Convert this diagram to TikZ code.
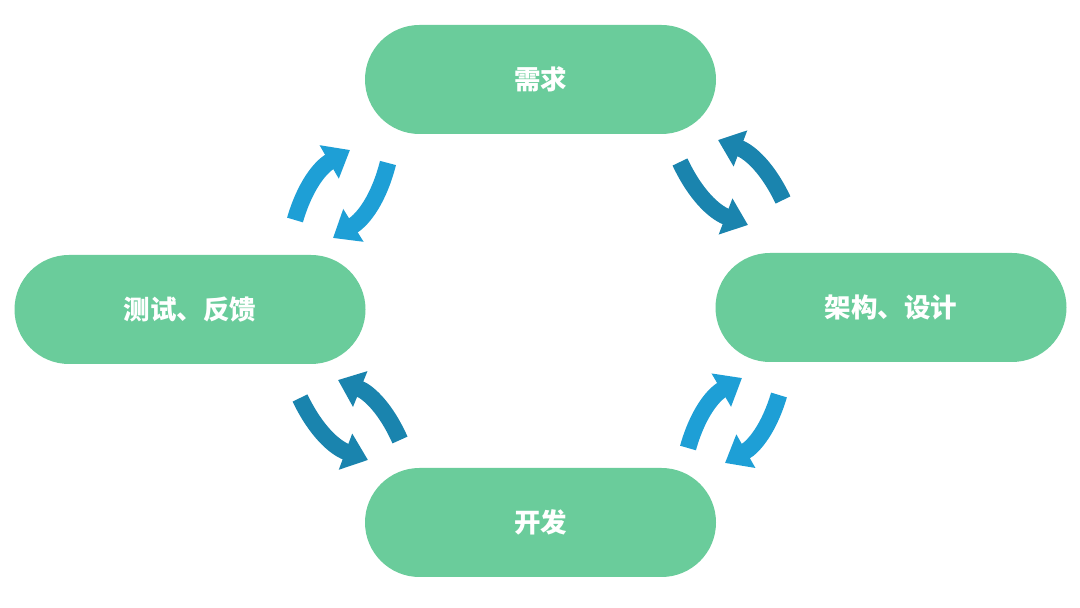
\documentclass[tikz,border=0pt]{standalone}
\usepackage{fontspec}
\newfontfamily\cjk{Noto Sans CJK SC}
\usetikzlibrary{arrows.meta}
\definecolor{pill}{HTML}{6ACC9B}
\definecolor{lblue}{HTML}{1E9FD6}
\definecolor{dblue}{HTML}{1A84AE}
\begin{document}
\begin{tikzpicture}[x=1pt,y=1pt,
  stage/.style={fill=pill,draw=none,rounded corners=54.5pt,minimum width=351pt,minimum height=109pt,
    text=white,font=\cjk\bfseries\fontsize{26.5}{30}\selectfont,inner sep=0pt},
  arrbase/.style={line width=16.5pt,line cap=butt,-{Triangle[width=37pt,length=24pt]}},
  arrlight/.style={arrbase,draw=lblue,color=lblue},
  arrdark/.style={arrbase,draw=dblue,color=dblue}]
\useasboundingbox[fill=white] (0,0) rectangle (1080,608);
\node[stage] (req) at (540.5,528.5) {需求};
\node[stage] (test) at (190,298.5) {测试、反馈};
\node[stage] (arch) at (891,300.5) {架构、设计};
\node[stage] (dev) at (540.5,85.5) {开发};
% arrow ends (tail / tip)
\coordinate (tlAt) at (295,388); \coordinate (tlAh) at (350,458);
\coordinate (tlBt) at (388,445); \coordinate (tlBh) at (333,370);
\coordinate (trAt) at (680,446); \coordinate (trAh) at (748,383);
\coordinate (trBt) at (783,408); \coordinate (trBh) at (718,468);
\coordinate (blAt) at (300,210); \coordinate (blAh) at (368,148);
\coordinate (blBt) at (400,168); \coordinate (blBh) at (338,228);
\coordinate (brAt) at (688,160); \coordinate (brAh) at (742,230);
\coordinate (brBt) at (779,213); \coordinate (brBh) at (725,145);
\draw[arrlight] (tlAt) to[bend left=22] (tlAh);
\draw[arrlight] (tlBt) to[bend left=22] (tlBh);
\draw[arrlight] (brAt) to[bend left=22] (brAh);
\draw[arrlight] (brBt) to[bend left=22] (brBh);
\draw[arrdark] (trAt) to[bend right=22] (trAh);
\draw[arrdark] (trBt) to[bend right=22] (trBh);
\draw[arrdark] (blAt) to[bend right=22] (blAh);
\draw[arrdark] (blBt) to[bend right=22] (blBh);
\end{tikzpicture}
\end{document}
